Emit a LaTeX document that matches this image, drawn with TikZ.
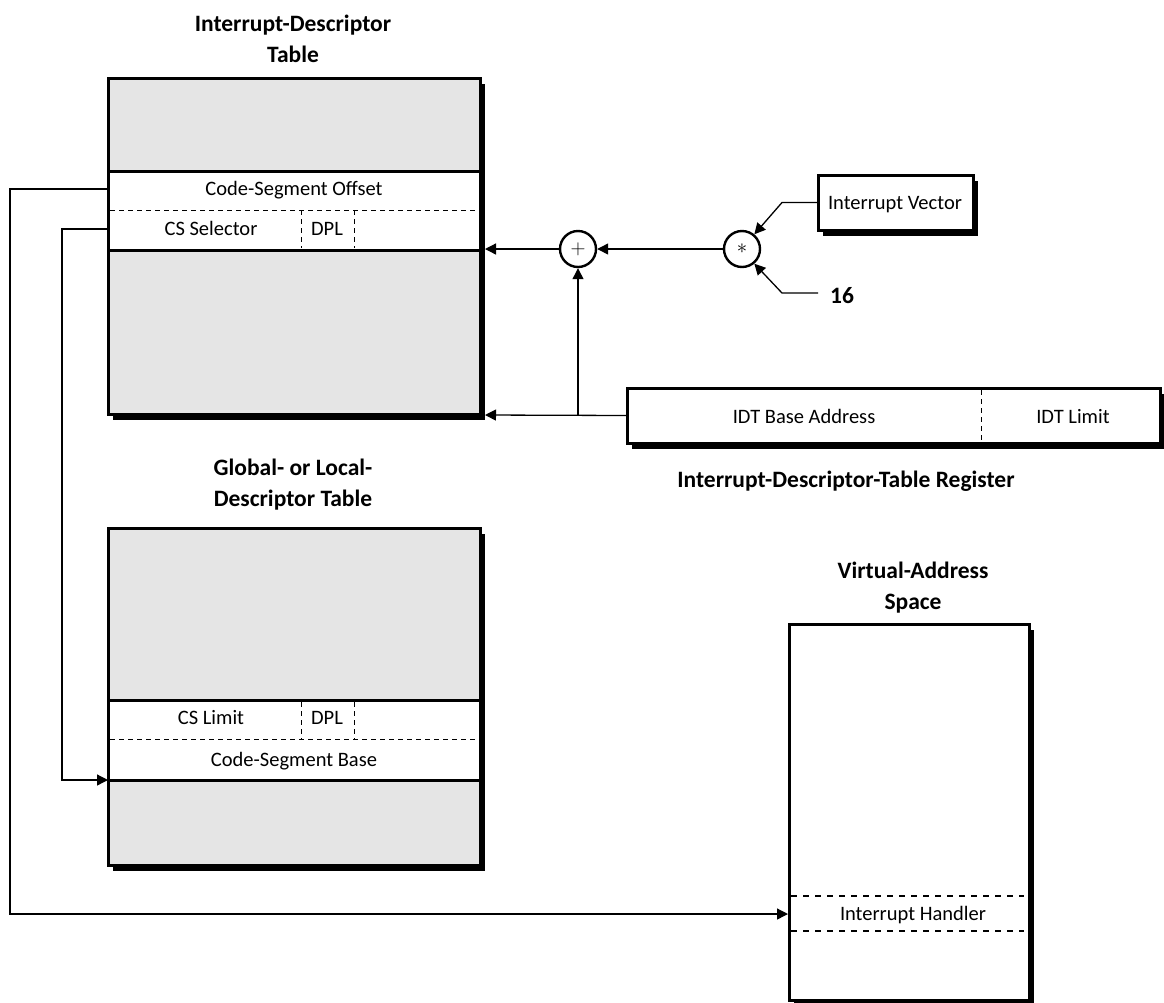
\documentclass[tikz,border=0pt]{standalone}
\usepackage{fontspec}
\setmainfont{Carlito}
\usetikzlibrary{arrows.meta,shadows}
\definecolor{boxgray}{HTML}{E5E5E5}
\begin{document}
\begin{tikzpicture}[x=1pt,y=-1pt,
  shadowed/.style={drop shadow={shadow xshift=5pt,shadow yshift=-6pt,fill=black,opacity=1}},
  tbox/.style={draw,line width=3pt,inner sep=0pt,outer sep=0pt,anchor=north west},
  band/.style={draw,fill=white,line width=3pt,inner sep=0pt,outer sep=0pt,anchor=north west},
  lbl/.style={font=\fontsize{20.5}{24}\selectfont,inner sep=1pt,text height=15pt,text depth=2pt},
  ttl/.style={font=\bfseries\fontsize{23.5}{31}\selectfont,align=center,inner sep=0pt},
  thin dash/.style={line width=1pt,dash pattern=on 4.5pt off 4.5pt},
  arr/.style={line width=1.3pt,-{Triangle[length=11pt,width=11pt]}},
  opcirc/.style={circle,draw,line width=2.4pt,minimum size=36pt,inner sep=0pt,fill=white}]
\useasboundingbox (0,0) rectangle (1164,1002);

% ---------- Interrupt-Descriptor Table ----------
\node[ttl] (idttitle) at (293,39) {Interrupt-Descriptor\\Table};
\node[tbox,shadowed,fill=boxgray,minimum width=372pt,minimum height=336pt] (idt) at (108,78) {};
\node[band,minimum width=372pt,minimum height=79pt] (idtband) at (108,171) {};
\draw[thin dash] (110,210) -- (478,210);
\draw[thin dash] (301,210) -- (301,248);
\draw[thin dash] (354,210) -- (354,248);
\node[lbl] (cso) at (294,189) {Code-Segment Offset};
\node[lbl] (csel) at (211,229) {CS Selector};
\node[lbl] (idtdpl) at (327,229) {DPL};
\coordinate (idtoff) at (108,189);
\coordinate (idtsel) at (108,229);
\coordinate (idtin) at (485,249);
\coordinate (idtbase) at (485,415);

% ---------- Global- or Local-Descriptor Table ----------
\node[ttl] (gdttitle) at (293,485) {Global- or Local-\\Descriptor Table};
\node[tbox,shadowed,fill=boxgray,minimum width=372pt,minimum height=337pt] (gdt) at (108,528) {};
\node[band,minimum width=372pt,minimum height=80pt] (gdtband) at (108,700) {};
\draw[thin dash] (110,739) -- (478,739);
\draw[thin dash] (301,702) -- (301,739);
\draw[thin dash] (354,702) -- (354,739);
\node[lbl] (cslim) at (211,718) {CS Limit};
\node[lbl] (gdtdpl) at (327,718) {DPL};
\node[lbl] (cbase) at (294,760) {Code-Segment Base};
\coordinate (gdtin) at (108,780);

% ---------- Virtual-Address Space ----------
\node[ttl] (vastitle) at (913,588) {Virtual-Address\\Space};
\node[tbox,shadowed,fill=white,minimum width=240pt,minimum height=376pt] (vas) at (789,624) {};
\draw[line width=2.2pt,dash pattern=on 6pt off 6pt] (791,896) -- (1024,896);
\draw[line width=2.2pt,dash pattern=on 6pt off 6pt] (791,931) -- (1024,931);
\node[lbl] (handler) at (913,914) {Interrupt Handler};
\coordinate (vasin) at (788,914);

% ---------- IDTR ----------
\node[tbox,shadowed,fill=white,minimum width=533pt,minimum height=55pt] (idtr) at (627,388) {};
\draw[thin dash] (981,390) -- (981,441);
\node[lbl] (idtbaseaddr) at (804,417) {IDT Base Address};
\node[lbl] (idtlimit) at (1073,417) {IDT Limit};
\node[ttl] (idtrtitle) at (846,481) {Interrupt-Descriptor-Table Register};

% ---------- Interrupt vector, 16, operators ----------
\node[tbox,shadowed,fill=white,minimum width=155pt,minimum height=55pt] (iv) at (818,175) {};
\node[lbl] (ivtext) at (895,203) {Interrupt Vector};
\node[ttl,anchor=west] (sixteen) at (830,296) {16};
\coordinate (sixin) at (818,293);
\node[opcirc] (plus) at (578,249) {\fontsize{20}{20}\selectfont$+$};
\node[opcirc] (star) at (742,249) {\fontsize{22}{22}\selectfont$\ast$};

% ---------- Connectors ----------
\draw[arr] (plus.west) -- (idtin);
\draw[arr] (star.west) -- (plus.east);
\draw[arr] (iv.west) -- ++(-36,0) -- (star.50);
\draw[arr] (sixin) -- ++(-36,0) -- (star.-50);
\draw[arr] (idtr.west) -- (idtbase);
\draw[arr] (plus.south |- idtr.west) -- (plus.south);
\draw[arr] (idtoff) -- ++(-98,0) |- (vasin);
\draw[arr] (idtsel) -- ++(-46,0) |- (gdtin);
\end{tikzpicture}
\end{document}
